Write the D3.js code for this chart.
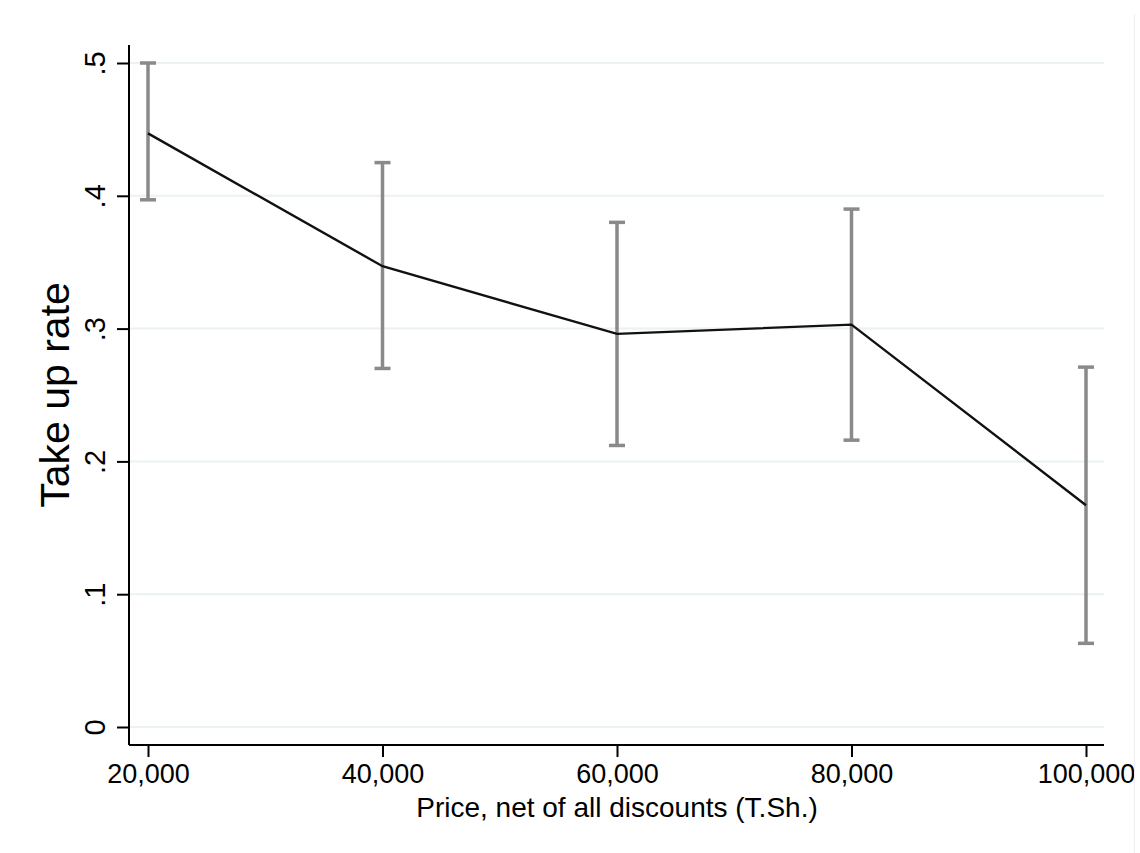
<!DOCTYPE html>
<html><head><meta charset="utf-8">
<script src="https://cdn.jsdelivr.net/npm/d3@7"></script>
<style>body{margin:0;background:#fff}svg{display:block}text{font-family:"Liberation Sans",Arial,Helvetica,sans-serif;fill:#000}</style>
</head><body><svg id="c" width="1140" height="853"></svg>
<script>
const prices = [20000, 40000, 60000, 80000, 100000];
const takeUp = [0.447, 0.347, 0.296, 0.303, 0.167];
const ciLow = [0.397, 0.270, 0.212, 0.216, 0.063];
const ciHigh = [0.500, 0.425, 0.380, 0.390, 0.271];
const yTicks = [0, 0.1, 0.2, 0.3, 0.4, 0.5];
const yTickLabels = ["0", ".1", ".2", ".3", ".4", ".5"];
const xTickLabels = ["20,000", "40,000", "60,000", "80,000", "100,000"];

(function(){
const svg = d3.select("#c");
const x = d3.scaleLinear().domain([20000, 100000]).range([148, 1086]);
const y = d3.scaleLinear().domain([0, 0.5]).range([727, 63]);
const pL = 129, pR = 1104, pB = 745, pT = 45;

svg.append("g").selectAll("line").data(yTicks).join("line")
  .attr("x1",pL).attr("x2",pR).attr("y1",d=>y(d)).attr("y2",d=>y(d))
  .attr("stroke","#eaf2f3").attr("stroke-width",2);

const yAxis = svg.append("g").attr("transform",`translate(${pL},0)`)
  .call(d3.axisLeft(y).tickValues(yTicks).tickFormat((d,i)=>yTickLabels[i]).tickSize(12).tickPadding(0));
yAxis.select(".domain").attr("d",`M0,${pT}V${pB}`).attr("stroke","#000").attr("stroke-width",2);
yAxis.selectAll(".tick line").attr("stroke","#000").attr("stroke-width",2);
yAxis.selectAll(".tick text").attr("font-size",29).attr("text-anchor","middle")
  .attr("x",0).attr("y",0).attr("dy",null)
  .attr("transform","translate(-24,0) rotate(-90)");

const xAxis = svg.append("g").attr("transform",`translate(0,${pB})`)
  .call(d3.axisBottom(x).tickValues(prices).tickFormat((d,i)=>xTickLabels[i]).tickSize(12));
xAxis.select(".domain").attr("d",`M${pL},0H${pR}`).attr("stroke","#000").attr("stroke-width",2);
xAxis.selectAll(".tick line").attr("stroke","#000").attr("stroke-width",2);
xAxis.selectAll(".tick text").attr("font-size",27).attr("y",38).attr("dy",null);

svg.append("text").attr("transform","translate(69,395) rotate(-90)").attr("text-anchor","middle")
  .attr("font-size",41).text("Take up rate");
svg.append("text").attr("x",617).attr("y",817).attr("text-anchor","middle")
  .attr("font-size",28).text("Price, net of all discounts (T.Sh.)");

const eb = svg.append("g").attr("stroke","#8a8a8a").attr("stroke-width",3.5);
eb.selectAll(".v").data(prices).join("line").attr("class","v")
  .attr("x1",d=>x(d)).attr("x2",d=>x(d)).attr("y1",(d,i)=>y(ciLow[i])).attr("y2",(d,i)=>y(ciHigh[i]));
eb.selectAll(".h").data(prices).join("line").attr("class","h")
  .attr("x1",d=>x(d)-8).attr("x2",d=>x(d)+8).attr("y1",(d,i)=>y(ciHigh[i])).attr("y2",(d,i)=>y(ciHigh[i]));
eb.selectAll(".l").data(prices).join("line").attr("class","l")
  .attr("x1",d=>x(d)-8).attr("x2",d=>x(d)+8).attr("y1",(d,i)=>y(ciLow[i])).attr("y2",(d,i)=>y(ciLow[i]));

svg.append("path").datum(prices)
  .attr("d",d3.line().x(d=>x(d)).y((d,i)=>y(takeUp[i])))
  .attr("fill","none").attr("stroke","#111").attr("stroke-width",2.4);

// right edge: white margin with faint frame line
svg.append("rect").attr("x",1134).attr("y",0).attr("width",6).attr("height",853).attr("fill","#fff");
svg.append("line").attr("x1",1134.5).attr("x2",1134.5).attr("y1",14).attr("y2",853)
  .attr("stroke","#eeeeee").attr("stroke-width",1);
})();
</script></body></html>
